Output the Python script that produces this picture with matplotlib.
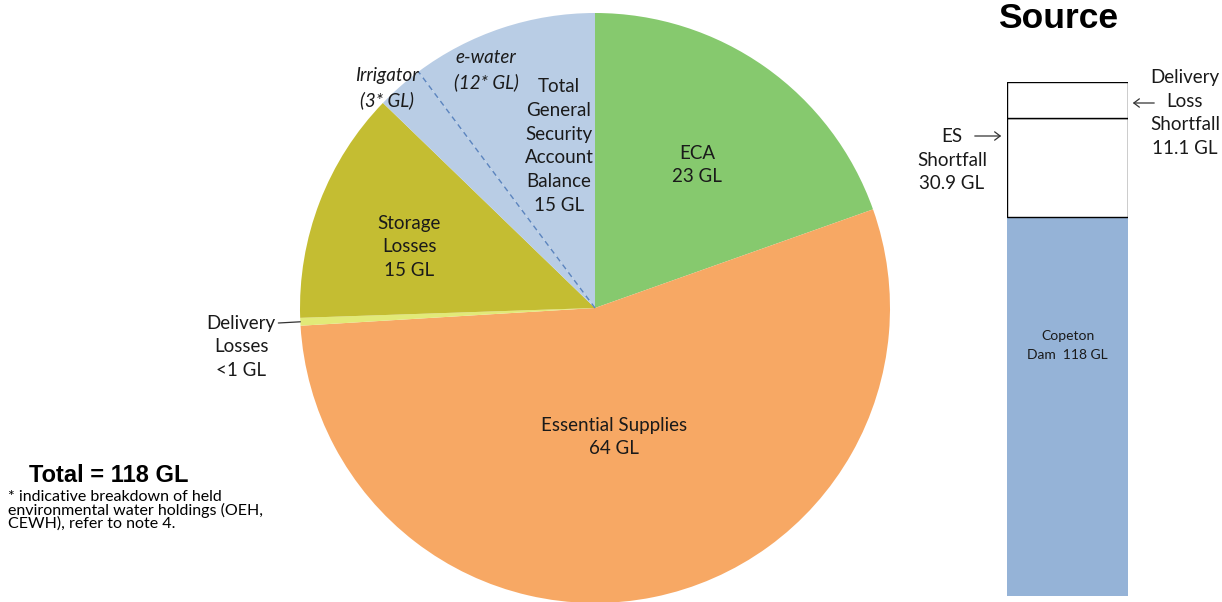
import matplotlib
matplotlib.use("Agg")
import matplotlib.pyplot as plt
import numpy as np

# pie: water balance (GL), clockwise from 12 o'clock
slice_names = ["ECA", "Essential Supplies", "Delivery Losses", "Storage Losses",
               "Irrigator", "e-water"]
slice_gl = [23, 64, 0.5, 15, 3, 12]
slice_colors = ["#86C96E", "#F7A864", "#E2EA78", "#C4BD32", "#B9CDE5", "#B9CDE5"]

# source bar (GL), stacked bottom-up
src_names = ["Copeton Dam", "ES Shortfall", "Delivery Loss Shortfall"]
src_gl = [118, 30.9, 11.1]
src_colors = ["#95B3D7", "white", "white"]

W, H = 1222, 602
BODY = "Lato"


def fxy(px, py):
    """pixel position in the reference -> figure fraction"""
    return px / W, 1 - py / H


fig = plt.figure(figsize=(W / 100, H / 100), dpi=100)

# ---- pie ----
cx, cy, r = 595, 308, 295
ax = fig.add_axes([(cx - r) / W, (H - cy - r) / H, 2 * r / W, 2 * r / H])
wedges, _ = ax.pie(slice_gl, colors=slice_colors, startangle=90, counterclock=False,
                   wedgeprops=dict(linewidth=0))
ax.set_xlim(-1, 1)
ax.set_ylim(-1, 1)
ax.set_aspect("equal")
ax.axis("off")

# dashed split between irrigator and e-water holdings
ang = np.deg2rad(wedges[5].theta2)
ax.plot([0, np.cos(ang)], [0, np.sin(ang)], ls=(0, (4, 3)), color="#5B84BE", lw=1.0)

txt = dict(ha="center", va="center", fontsize=13.5, family=BODY, color="#1a1a1a",
           linespacing=1.48)
fig.text(*fxy(697, 165), "ECA\n23 GL", **txt)
fig.text(*fxy(614, 437), "Essential Supplies\n64 GL", **txt)
fig.text(*fxy(409, 247), "Storage\nLosses\n15 GL", **txt)
fig.text(*fxy(559, 146), "Total\nGeneral\nSecurity\nAccount\nBalance\n15 GL", **txt)
fig.text(*fxy(486, 70), "e-water\n(12* GL)", style="italic", **txt)
fig.text(*fxy(387, 88), "Irrigator\n(3* GL)", style="italic", **txt)

# delivery losses label with leader line to the sliver
mid = np.deg2rad((wedges[2].theta1 + wedges[2].theta2) / 2)
ax.annotate("Delivery\nLosses\n<1 GL", xy=(np.cos(mid), np.sin(mid)),
            xytext=fxy(241, 347), textcoords="figure fraction",
            arrowprops=dict(arrowstyle="-", color="#333333", lw=0.9,
                            shrinkA=0, shrinkB=0, relpos=(1.0, 0.87)),
            annotation_clip=False, **txt)

fig.text(*fxy(29, 476), "Total = 118 GL", ha="left", va="center", fontsize=17,
         weight="bold", family="Liberation Sans")
fig.text(*fxy(8, 490), "* indicative breakdown of held\nenvironmental water holdings (OEH,\n"
         "CEWH), refer to note 4.", ha="left", va="top", fontsize=11.5, family=BODY,
         linespacing=0.9)

# ---- source bar ----
top_gl = sum(src_gl)
bx = fig.add_axes([1007 / W, (H - 596) / H, 121 / W, (596 - 82) / H])
bottom = 0
for name, val, col in zip(src_names, src_gl, src_colors):
    edge = "none" if col != "white" else "black"
    bx.bar(0, val, bottom=bottom, width=1, color=col, edgecolor=edge, lw=1)
    bottom += val
bx.set_xlim(-0.5, 0.5)
bx.set_ylim(0, top_gl)
bx.axis("off")

bx.text(0, src_gl[0] - 40, "Copeton\nDam  118 GL", ha="center", va="center",
        fontsize=10, family=BODY, color="#1a1a1a", linespacing=1.7)

fig.text(*fxy(1058, 19), "Source", ha="center", va="center", fontsize=25.5,
         weight="bold", family="Liberation Sans")

fig.text(*fxy(1185, 113), "Delivery\nLoss\nShortfall\n11.1 GL", **txt)
fig.text(*fxy(952, 160), "ES\nShortfall\n30.9 GL", **txt)

fig.add_artist(matplotlib.patches.FancyArrowPatch(
    fxy(1157, 103), fxy(1130, 103), transform=fig.transFigure,
    arrowstyle="->,head_length=4,head_width=3", color="#333333", lw=0.9))
fig.add_artist(matplotlib.patches.FancyArrowPatch(
    fxy(972, 136), fxy(1004, 136), transform=fig.transFigure,
    arrowstyle="->,head_length=4,head_width=3", color="#333333", lw=0.9))

fig.savefig("out.png", dpi=100)
